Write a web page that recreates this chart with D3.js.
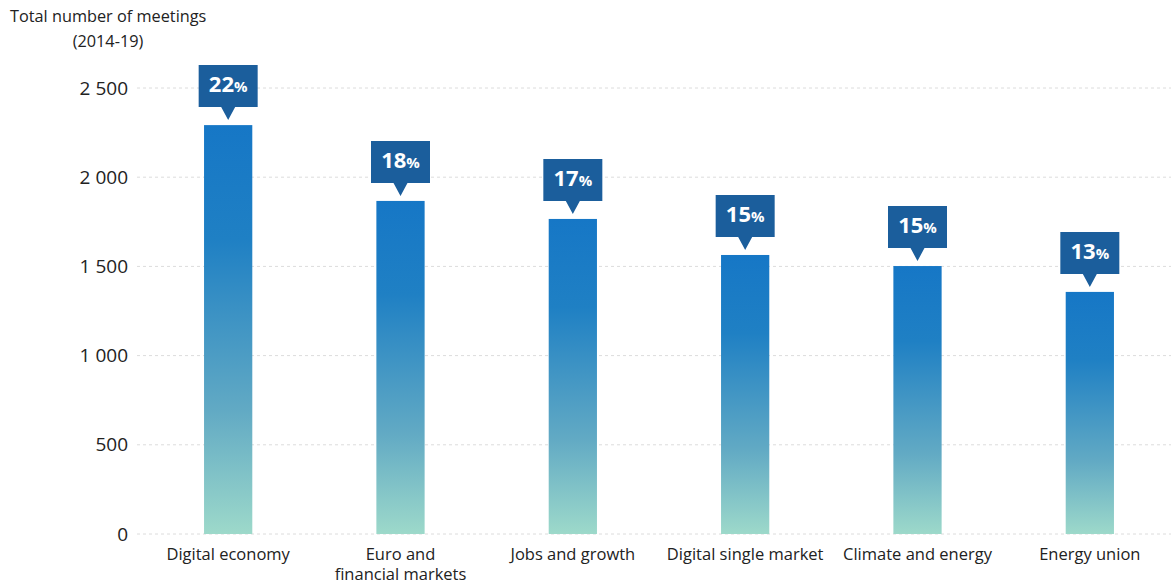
<!DOCTYPE html>
<html>
<head>
<meta charset="utf-8">
<script src="https://cdn.jsdelivr.net/npm/d3@7"></script>
<style>
    body { margin: 0; background: #fff; }
    svg { font-family: "Open Sans", sans-serif; }
</style>
</head>
<body>
<svg id="chart"></svg>
<script>
// data
const topics = [["Digital economy"], ["Euro and", "financial markets"], ["Jobs and growth"],
    ["Digital single market"], ["Climate and energy"], ["Energy union"]];
const meetings = [2292, 1867, 1766, 1564, 1502, 1357];
const shares = [22, 18, 17, 15, 15, 13];
const yTicks = [0, 500, 1000, 1500, 2000, 2500];

const width = 1171, height = 583;

const svg = d3.select('#chart')
    .attr('width', width)
    .attr('height', height);

const x = d3.scaleBand()
    .domain(d3.range(topics.length))
    .range([142, 1176])
    .paddingInner(0.72)
    .paddingOuter(0.36);

const y = d3.scaleLinear()
    .domain([0, 2500])
    .range([534, 88]);

// gradient for bars
const grad = svg.append('defs').append('linearGradient')
    .attr('id', 'barGrad')
    .attr('x1', 0).attr('y1', 0).attr('x2', 0).attr('y2', 1);
grad.append('stop').attr('offset', '0%').attr('stop-color', '#1677c6');
grad.append('stop').attr('offset', '28%').attr('stop-color', '#1f80c4');
grad.append('stop').attr('offset', '70%').attr('stop-color', '#62aac4');
grad.append('stop').attr('offset', '100%').attr('stop-color', '#9dd9ca');

// title
svg.append('text')
    .attr('x', 10).attr('y', 22)
    .attr('font-size', 16.3).attr('fill', '#222')
    .text('Total number of meetings');
svg.append('text')
    .attr('x', 108).attr('y', 47)
    .attr('text-anchor', 'middle')
    .attr('font-size', 16.3).attr('fill', '#222')
    .text('(2014-19)');

// gridlines
svg.append('g')
    .selectAll('line')
    .data(yTicks)
    .join('line')
    .attr('x1', 137).attr('x2', width)
    .attr('y1', d => y(d)).attr('y2', d => y(d))
    .attr('stroke', '#dcdcdc')
    .attr('stroke-width', 1)
    .attr('stroke-dasharray', '3,3');

// y axis labels
svg.append('g')
    .selectAll('text')
    .data(yTicks)
    .join('text')
    .attr('x', 128)
    .attr('y', d => y(d))
    .attr('dy', '0.35em')
    .attr('text-anchor', 'end')
    .attr('font-size', 19)
    .attr('fill', '#222')
    .text(d => d3.format(',')(d).replace(',', ' '));

// bars
svg.append('g')
    .selectAll('rect')
    .data(meetings)
    .join('rect')
    .attr('x', (d, i) => x(i))
    .attr('y', d => y(d))
    .attr('width', x.bandwidth())
    .attr('height', d => y(0) - y(d))
    .attr('fill', 'url(#barGrad)');

// percentage callouts
const boxW = 59, boxH = 42, tipH = 13, gap = 5;
const callouts = svg.append('g')
    .selectAll('g')
    .data(shares)
    .join('g')
    .attr('transform', (d, i) => `translate(${x(i) + x.bandwidth() / 2},${y(meetings[i]) - gap})`);

callouts.append('path')
    .attr('d', `M${-boxW / 2},${-tipH - boxH} h${boxW} v${boxH} h${-(boxW / 2 - 7)} l-7,${tipH} l-7,${-tipH} h${-(boxW / 2 - 7)} Z`)
    .attr('fill', '#1b5e9c');

const lbl = callouts.append('text')
    .attr('x', 0)
    .attr('y', -tipH - boxH / 2)
    .attr('dy', '0.36em')
    .attr('text-anchor', 'middle')
    .attr('fill', '#fff')
    .attr('font-weight', 'bold');
lbl.append('tspan').attr('font-size', 22).text(d => d);
lbl.append('tspan').attr('font-size', 15).text('%');

// x labels
svg.append('g')
    .selectAll('text')
    .data(topics)
    .join('text')
    .attr('x', (d, i) => x(i) + x.bandwidth() / 2)
    .attr('y', 560)
    .attr('text-anchor', 'middle')
    .attr('font-size', 16.5)
    .attr('fill', '#222')
    .selectAll('tspan')
    .data(d => d)
    .join('tspan')
    .attr('x', function () { return this.parentNode.getAttribute('x'); })
    .attr('dy', (d, j) => j === 0 ? 0 : 20)
    .text(d => d);
</script>
</body>
</html>
